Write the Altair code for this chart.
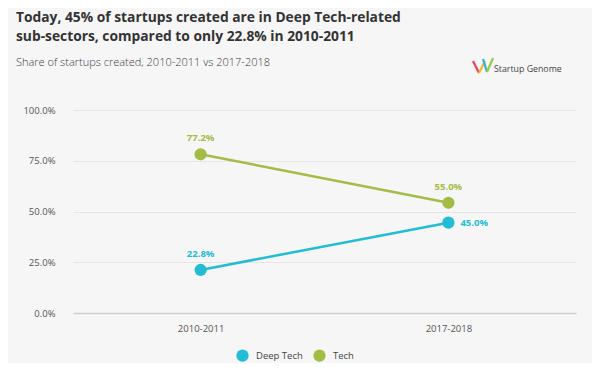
import altair as alt
import pandas as pd

periods = ["2010-2011", "2017-2018"]
series_names = ["Deep Tech", "Tech"]
deep_tech = [21.2, 44.5]
tech = [78.2, 54.3]
deep_tech_labels = ["22.8%", "45.0%"]
tech_labels = ["77.2%", "55.0%"]
colors = ["#22bcd5", "#a3bc45"]

title_lines = ["Today, 45% of startups created are in Deep Tech-related",
               "sub-sectors, compared to only 22.8% in 2010-2011"]
subtitle = "Share of startups created, 2010-2011 vs 2017-2018"
brand = "Startup Genome"

rows = []
for s, vals, labs in [("Deep Tech", deep_tech, deep_tech_labels), ("Tech", tech, tech_labels)]:
    for p, v, l in zip(periods, vals, labs):
        rows.append({"series": s, "period": p, "value": v, "label": l})
df = pd.DataFrame(rows)
df["pos"] = ["above", "right", "above", "above"]

FONT = "Open Sans"
W, H = 503, 203

color = alt.Color("series:N", scale=alt.Scale(domain=series_names, range=colors),
                  legend=alt.Legend(title=None, orient="none", legendX=163, legendY=239,
                                    direction="horizontal", symbolType="circle", symbolSize=150,
                                    symbolStrokeWidth=0, labelFont=FONT, labelFontSize=9.5,
                                    labelColor="#444", columnPadding=10, labelOffset=7))

x = alt.X("period:N", sort=periods, title=None,
          scale=alt.Scale(type="point", padding=0.515),
          axis=alt.Axis(labelAngle=0, labelFont=FONT, labelFontSize=9.5, labelColor="#555",
                        ticks=False, domainColor="#cfcfcf", domainWidth=1.5, labelPadding=10,
                        grid=False))
y = alt.Y("value:Q", title=None, scale=alt.Scale(domain=[0, 100], nice=False),
          axis=alt.Axis(values=[0, 25, 50, 75, 100], labelExpr="format(datum.value, '.1f') + '%'",
                        labelFont=FONT, labelFontSize=9.5, labelColor="#555", ticks=False,
                        domain=False, gridColor="#e6e6e6", labelPadding=18))

label_color = alt.Color("series:N", scale=alt.Scale(domain=series_names, range=colors), legend=None)

base = alt.Chart(df)
lines = base.mark_line(strokeWidth=2.5).encode(x=x, y=y, color=color, detail="series:N")
points = base.mark_circle(size=150, opacity=1).encode(x=x, y=y, color=color)
lab_above = base.transform_filter("datum.pos == 'above'").mark_text(
    font=FONT, fontSize=9.5, fontWeight="bold", dy=-16).encode(
    x=x, y=y, text="label:N", color=label_color)
lab_right = base.transform_filter("datum.pos == 'right'").mark_text(
    font=FONT, fontSize=9.5, fontWeight="bold", dx=12, align="left").encode(
    x=x, y=y, text="label:N", color=label_color)

tdf = pd.DataFrame({"t": title_lines, "yy": [-88, -69]})
titles = alt.Chart(tdf).mark_text(font=FONT, fontSize=13.8, fontWeight="bold", color="#333",
                                  align="left", baseline="alphabetic").encode(
    x=alt.value(-57), y=alt.Y("yy:Q", scale=None), text="t:N")
sub = alt.Chart(pd.DataFrame({"t": [subtitle]})).mark_text(
    font=FONT, fontSize=11, fontWeight=300, color="#3a3a3a", align="left", baseline="alphabetic").encode(
    x=alt.value(-57), y=alt.value(-44), text="t:N")
brand_t = alt.Chart(pd.DataFrame({"t": [brand]})).mark_text(
    font=FONT, fontSize=8.8, color="#444", align="left", baseline="alphabetic").encode(
    x=alt.value(421), y=alt.value(-38), text="t:N")

# logo zigzag segments (decoration)
logo = pd.DataFrame({
    "x1": [400, 406, 410, 414], "y1": [-49, -37, -51, -38],
    "x2": [406, 412, 414, 420], "y2": [-37, -49, -38, -52],
    "c": ["#e8455a", "#f2b632", "#2bb5d8", "#9cc64a"]})
logo_m = alt.Chart(logo).mark_rule(strokeWidth=2.2).encode(
    x=alt.X("x1:Q", scale=None), x2="x2:Q", y=alt.Y("y1:Q", scale=None), y2="y2:Q",
    color=alt.Color("c:N", scale=None))

chart = alt.layer(lines, points, lab_above, lab_right).resolve_scale(color="shared")
full = alt.layer(chart, titles, sub, brand_t, logo_m).properties(
    width=W, height=H, background="#f6f6f6",
    autosize=alt.AutoSizeParams(type="none"),
    padding={"left": 65, "top": 102, "right": 16, "bottom": 50}
).configure_view(stroke=None).configure_axisY(grid=True)

full.save("out.html", embed_options={"renderer": "svg", "actions": False})
